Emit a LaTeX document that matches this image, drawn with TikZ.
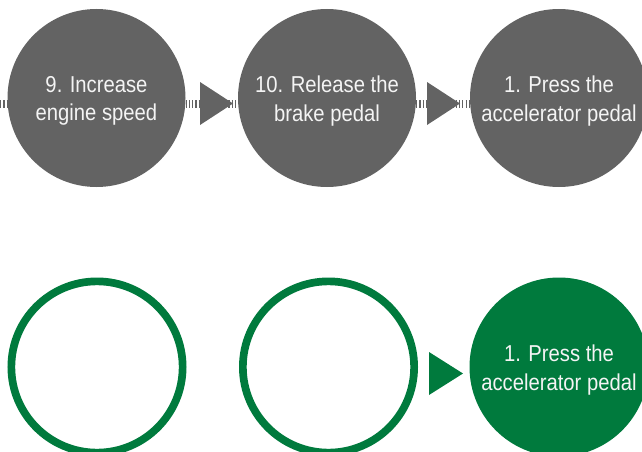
\documentclass[tikz,border=0pt]{standalone}
\usepackage{fontspec}
\setmainfont[FakeStretch=0.88]{Liberation Sans}
\usetikzlibrary{calc}
\definecolor{stepgray}{HTML}{636363}
\definecolor{stepgreen}{HTML}{007A3D}
\definecolor{steptext}{HTML}{F4F4F4}
\begin{document}
\begin{tikzpicture}[x=1pt,y=-1pt,
  graycirc/.style={circle,fill=stepgray,minimum size=178pt,inner sep=0pt,outer sep=0pt},
  greenring/.style={circle,draw=stepgreen,line width=7.7pt,minimum size=171.3pt,inner sep=0pt,outer sep=0pt},
  greencirc/.style={circle,fill=stepgreen,minimum size=179pt,inner sep=0pt,outer sep=0pt},
  lbl/.style={text=steptext,align=center,font=\fontsize{23}{28.5}\selectfont,inner sep=0pt},
  dashlink/.style={draw=stepgray,line width=8pt,dash pattern=on 1.2pt off 2.1pt},
  graytri/.style={fill=stepgray},
  greentri/.style={fill=stepgreen}]
\useasboundingbox (0,0) rectangle (642,452);
\clip (0,0) rectangle (642,452);
% top row
\node[graycirc] (a1) at (96.5,98) {};
\node[graycirc] (a2) at (327,98) {};
\node[graycirc] (a3) at (559,98) {};
\coordinate (a0) at (0,103.5);
\draw[dashlink] (a0) -- ([yshift=-5.5pt]a1.west);
\draw[dashlink] ([yshift=-5.5pt]a1.east) -- ([yshift=-5.5pt]a2.west);
\draw[dashlink] ([yshift=-5.5pt]a2.east) -- ([yshift=-5.5pt]a3.west);
\coordinate (t1) at (216.5,103.5);
\coordinate (t2) at (443.5,103.5);
\fill[graytri] ([shift={(-16.5,-21.5)}]t1) -- ([shift={(16.5,0)}]t1) -- ([shift={(-16.5,21.5)}]t1) -- cycle;
\fill[graytri] ([shift={(-16.5,-21.5)}]t2) -- ([shift={(16.5,0)}]t2) -- ([shift={(-16.5,21.5)}]t2) -- cycle;
\node[lbl] (l1) at (96.5,101) {9. Increase\\engine speed};
\node[lbl] (l2) at (327,101) {10. Release the\\brake pedal};
\node[lbl] (l3) at (559,101) {1. Press the\\accelerator pedal};
% bottom row
\node[greenring] (b1) at (97,367) {};
\node[greenring] (b2) at (328.5,367) {};
\node[greencirc] (b3) at (559,367) {};
\coordinate (t3) at (446,373.5);
\fill[greentri] ([shift={(-17,-21.5)}]t3) -- ([shift={(17,0)}]t3) -- ([shift={(-17,21.5)}]t3) -- cycle;
\node[lbl] (l4) at (559,370) {1. Press the\\accelerator pedal};
\end{tikzpicture}
\end{document}
